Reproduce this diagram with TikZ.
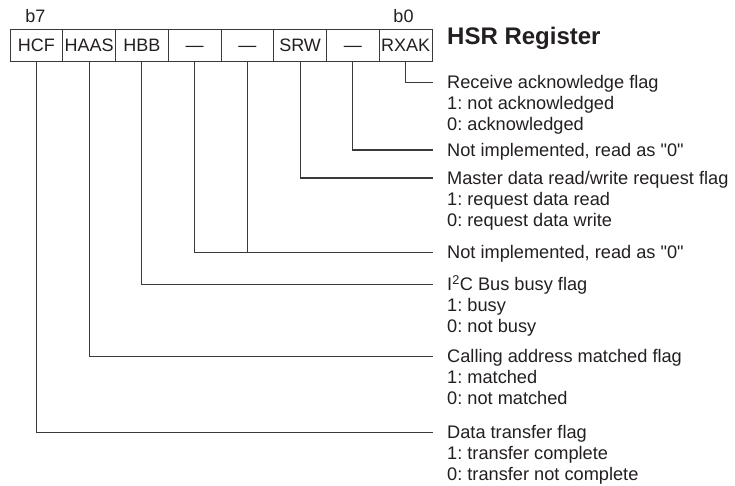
\documentclass[tikz,border=0pt]{standalone}
\usepackage{fontspec}
\setmainfont{Liberation Sans}[Ligatures=TeXOff]
\frenchspacing
\definecolor{linec}{HTML}{3A3A3A}
\definecolor{txt}{HTML}{231F20}
\begin{document}
\begin{tikzpicture}[x=1pt,y=-1pt,
  cell/.style={draw=linec, line width=0.9pt, minimum width=52.75pt, minimum height=32pt,
    inner sep=0pt, text height=13pt, text depth=0pt, text=txt,
    font=\fontsize{18}{21}\selectfont},
  lbl/.style={anchor=base west, inner sep=0pt, text=txt, font=\fontsize{18.2}{21}\selectfont},
  bitlbl/.style={anchor=base, inner sep=0pt, text=txt, font=\fontsize{18}{21}\selectfont},
  wire/.style={draw=linec, line width=1.2pt}]
\useasboundingbox (0,0) rectangle (735,486);
% register cells
\node[cell] (r7) at (36.375,45) {HCF};
\node[cell] (r6) at (89.125,45) {HAAS};
\node[cell] (r5) at (141.875,45) {HBB};
\node[cell] (r4) at (194.625,45) {—};
\node[cell] (r3) at (247.375,45) {—};
\node[cell] (r2) at (300.125,45) {SRW};
\node[cell] (r1) at (352.875,45) {—};
\node[cell] (r0) at (405.625,45) {RXAK};
% bit labels and title
\node[bitlbl] (b7) at (35.5,22.5) {b7};
\node[bitlbl] (b0) at (403.5,22.5) {b0};
\node[anchor=base west, inner sep=0pt, text=txt, font=\fontsize{24}{28}\selectfont\bfseries] (title) at (447,45) {HSR Register};
% descriptions
\node[lbl] (d0) at (447,89) {\begin{tabular}[t]{@{}l@{}}Receive acknowledge flag\\1: not acknowledged\\0: acknowledged\end{tabular}};
\node[lbl] (d1) at (447,156.5) {Not implemented, read as "0"};
\node[lbl] (d2) at (447,184.5) {\begin{tabular}[t]{@{}l@{}}Master data read/write request flag\\1: request data read\\0: request data write\end{tabular}};
\node[lbl] (d34) at (447,258.5) {Not implemented, read as "0"};
\node[lbl] (d5) at (447,290.5) {\begin{tabular}[t]{@{}l@{}}I\textsuperscript{2}C Bus busy flag\\1: busy\\0: not busy\end{tabular}};
\node[lbl] (d6) at (447,362.5) {\begin{tabular}[t]{@{}l@{}}Calling address matched flag\\1: matched\\0: not matched\end{tabular}};
\node[lbl] (d7) at (447,438.5) {\begin{tabular}[t]{@{}l@{}}Data transfer flag\\1: transfer complete\\0: transfer not complete\end{tabular}};
% connectors
\draw[wire] (r0.south) |- ([xshift=-14pt,yshift=6.4pt]d0.base west);
\draw[wire] (r1.south) |- ([xshift=-14pt,yshift=6.4pt]d1.base west);
\draw[wire] (r2.south) |- ([xshift=-14pt,yshift=6.4pt]d2.base west);
\draw[wire] (r3.south) |- ([xshift=-14pt,yshift=6.4pt]d34.base west);
\draw[wire] (r4.south) |- ([xshift=-14pt,yshift=6.4pt]d34.base west);
\draw[wire] (r5.south) |- ([xshift=-14pt,yshift=6.4pt]d5.base west);
\draw[wire] (r6.south) |- ([xshift=-14pt,yshift=6.4pt]d6.base west);
\draw[wire] (r7.south) |- ([xshift=-14pt,yshift=6.4pt]d7.base west);
\end{tikzpicture}
\end{document}
